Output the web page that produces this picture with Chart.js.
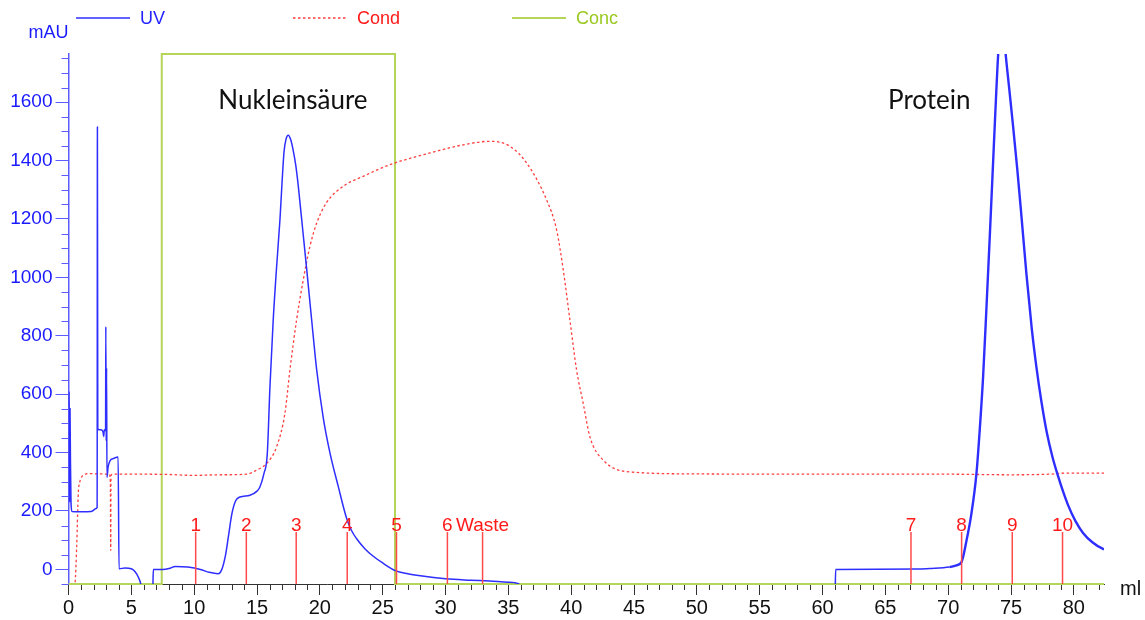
<!DOCTYPE html>
<html>
<head>
<meta charset="utf-8">
<script src="https://cdn.jsdelivr.net/npm/chart.js@4/dist/chart.umd.min.js"></script>
<style>
  html, body { margin: 0; padding: 0; background: #fff; }
  #wrap { width: 1145px; height: 620px; position: relative; }
</style>
</head>
<body>
<div id="wrap"><canvas id="chroma"></canvas></div>
<script>
// UV absorbance trace (ml, mAU)
const uvMl = [0.02, 0.06, 0.09, 0.12, 0.15, 0.2, 0.28, 1.0, 1.8, 2.0, 2.15, 2.28, 2.3, 2.33, 2.6, 2.75, 2.8, 2.85, 2.95, 2.97, 3.0, 3.03, 3.06, 3.15, 3.3, 3.6, 3.95, 4.02, 4.5, 5.0, 5.3, 5.55, 5.75, 5.85, 6.7, 6.75,
  7.5, 8.0, 8.5, 9.5, 10.5, 11.2, 11.9, 12.2, 12.5, 12.72, 13.0, 13.3, 13.64, 14.44, 15.0, 15.23, 15.55, 15.82, 16.03, 16.29, 16.55, 16.83, 17.0, 17.15, 17.3, 17.49, 17.68, 17.88,
  18.08, 18.28, 18.68, 18.95, 19.35, 19.75, 20.27, 20.8, 21.46, 22.13, 22.5, 22.93, 23.6, 24.25, 25.0, 26.0, 27.0, 28.0, 30.0, 32.0, 33.5, 35.0, 35.8, 36.2, 61.0, 61.05,
  67.5, 68.5, 70.1, 70.66, 71.06, 71.46, 71.85, 72.25, 72.51, 72.78, 73.04, 73.3, 73.55, 73.8, 74.0, 74.27, 74.56, 74.85, 75.16, 75.5, 75.83, 76.23, 76.65, 77.03, 77.4, 77.82, 78.3, 78.74, 79.1, 79.54, 80.1, 80.73, 81.5, 82.32, 82.4];
const uvMAU = [560, 608, 230, 550, 400, 226, 198, 197, 198, 203, 208, 212, 1515, 480, 478, 470, 455, 478, 475, 831, 440, 690, 315, 350, 372, 380, 385, 2, 5, 2, -8, -26, -50, -80, -80, 0,
  0, 3, 10, 8, 0, -10, -15, 0, 50, 111, 190, 235, 248, 254, 268, 282, 328, 397, 625, 854, 1030, 1200, 1330, 1430, 1472, 1487, 1472, 1435,
  1385, 1315, 1145, 1030, 854, 683, 520, 400, 285, 175, 135, 105, 70, 45, 22, -4, -15, -22, -32, -37, -40, -44, -49, -80, -80, 0,
  1, 3, 8, 14, 25, 99, 191, 328, 477, 660, 890, 1130, 1370, 1610, 1780, 1920, 1771, 1650, 1520, 1370, 1210, 1010, 825, 690, 580, 475, 385, 320, 272, 220, 168, 125, 92, 70, 69];

// Conductivity trace, drawn on the mAU scale
const condMl = [0.45, 0.52, 0.65, 0.78, 0.9, 1.05, 1.3, 1.58, 2.5, 3.25, 3.33, 3.36, 3.38, 3.5, 6.0, 8.0, 10.0, 12.0, 14.18, 14.97, 15.77, 16.56, 17.22, 17.62, 18.15, 18.68, 19.21, 19.75, 20.5, 21.86, 23.45, 25.58, 28.76, 31.41, 33.53, 35.12, 36.45, 38.04, 38.84, 39.37, 39.9, 40.43, 40.96, 41.49, 42.55, 44.67, 50, 60, 70, 75, 78, 79.5, 82.4];
const condVal = [-60, -49, 77, 260, 300, 317, 325, 328, 327, 326, 300, 65, 320, 326, 326, 325, 322, 324, 326, 340, 363, 420, 534, 683, 854, 991, 1106, 1186, 1254, 1312, 1346, 1386, 1426, 1454, 1466, 1449, 1392, 1266, 1163, 1026, 854, 683, 568, 454, 374, 334, 327, 326, 326, 324, 326, 330, 330];

// Buffer B concentration (%)
const concMl = [0, 7.42, 7.42, 25.98, 25.98, 82.4];
const concPct = [0, 0, 100, 100, 0, 0];

// Fraction marks
const fractionMl = [10.12, 14.15, 18.12, 22.18, 26.1, 30.15, 32.95, 67.04, 71.07, 75.1, 79.1];
const fractionNames = ['1', '2', '3', '4', '5', '6', 'Waste', '7', '8', '9', '10'];

// Peak names
const peakNames = ['Nukleinsäure', 'Protein'];

const sans = "'Liberation Sans', Arial, sans-serif";
const zip = (xs, ys) => xs.map((x, i) => ({ x: x, y: ys[i] }));

const minorTicks = {
  id: 'minorTicks',
  afterDraw(chart) {
    const { ctx } = chart;
    const xs = chart.scales.x, ys = chart.scales.y;
    ctx.save();
    ctx.lineWidth = 1;
    ctx.strokeStyle = '#333';
    xs.ticks.forEach(t => {
      if (t.value % 5 !== 0) {
        const px = Math.round(xs.getPixelForValue(t.value)) + 0.5;
        ctx.beginPath(); ctx.moveTo(px, xs.top + 1); ctx.lineTo(px, xs.top + 6); ctx.stroke();
      }
    });
    ctx.strokeStyle = '#5c5cff';
    ys.ticks.forEach(t => {
      if (t.value % 200 !== 0) {
        const py = Math.round(ys.getPixelForValue(t.value)) + 0.5;
        ctx.beginPath(); ctx.moveTo(ys.right - 7, py); ctx.lineTo(ys.right, py); ctx.stroke();
      }
    });
    ctx.restore();
  }
};

const fractionMarks = {
  id: 'fractionMarks',
  afterDatasetsDraw(chart, args, opts) {
    const { ctx, chartArea } = chart;
    const xs = chart.scales.x;
    ctx.save();
    ctx.strokeStyle = opts.lineColor;
    ctx.lineWidth = 1.5;
    ctx.fillStyle = opts.textColor;
    ctx.font = '19px ' + sans;
    ctx.textAlign = 'center';
    ctx.textBaseline = 'alphabetic';
    fractionMl.forEach((ml, i) => {
      const px = xs.getPixelForValue(ml);
      const top = chartArea.bottom - opts.height;
      ctx.beginPath(); ctx.moveTo(px, chartArea.bottom); ctx.lineTo(px, top); ctx.stroke();
      ctx.fillText(fractionNames[i], px, top - 1);
    });
    ctx.restore();
  }
};

const textLayer = {
  id: 'textLayer',
  afterDraw(chart, args, opts) {
    const { ctx, chartArea } = chart;
    const xs = chart.scales.x, ys = chart.scales.y;
    ctx.save();
    // legend row
    ctx.font = '18px ' + sans;
    ctx.textBaseline = 'middle';
    ctx.textAlign = 'left';
    opts.legendStarts.forEach((sx, i) => {
      const ds = chart.data.datasets[i];
      ctx.strokeStyle = ds.borderColor;
      ctx.lineWidth = ds.borderWidth;
      ctx.setLineDash(ds.borderDash || []);
      ctx.beginPath(); ctx.moveTo(sx, opts.legendY); ctx.lineTo(sx + opts.sample, opts.legendY); ctx.stroke();
      ctx.setLineDash([]);
      ctx.fillStyle = ds.legendColor;
      ctx.fillText(ds.label, sx + opts.sample + 10, opts.legendY + 1);
    });
    // axis units
    ctx.textBaseline = 'alphabetic';
    ctx.textAlign = 'right';
    ctx.fillStyle = '#1a1aff';
    ctx.fillText('mAU', ys.right, 38);
    ctx.textAlign = 'left';
    ctx.textBaseline = 'middle';
    ctx.fillStyle = '#111';
    ctx.font = '20px ' + sans;
    ctx.fillText('ml', chartArea.right + 16, chartArea.bottom + 5);
    // peak names
    ctx.font = '26px Lato, sans-serif';
    ctx.textAlign = 'center';
    ctx.textBaseline = 'alphabetic';
    ctx.fillStyle = '#111';
    opts.peakAt.forEach((ml, i) => {
      ctx.fillText(peakNames[i], xs.getPixelForValue(ml), ys.getPixelForValue(opts.peakTextLevel));
    });
    ctx.restore();
  }
};

new Chart(document.getElementById('chroma'), {
  type: 'line',
  data: {
    datasets: [
      {
        label: 'UV', data: zip(uvMl, uvMAU), yAxisID: 'y',
        borderColor: '#2e2eff', legendColor: '#2424ff', borderWidth: 1.5,
        segment: { borderWidth: c => (c.p0.parsed.x > 70 ? 2.4 : 1.5) },
        pointRadius: 0, cubicInterpolationMode: 'monotone', order: 0
      },
      {
        label: 'Cond', data: zip(condMl, condVal), yAxisID: 'yCond',
        borderColor: '#ff3d3d', legendColor: '#ff1a1a', borderWidth: 1.3, borderDash: [2.5, 2.5],
        pointRadius: 0, cubicInterpolationMode: 'monotone', order: 1
      },
      {
        label: 'Conc', data: zip(concMl, concPct), yAxisID: 'yConc',
        borderColor: '#b4d45a', legendColor: '#99c91f', borderWidth: 2,
        pointRadius: 0, tension: 0, clip: 3, order: 2
      }
    ]
  },
  options: {
    responsive: true,
    maintainAspectRatio: false,
    animation: false,
    devicePixelRatio: 1,
    layout: { padding: { top: 54, right: 41, left: 0, bottom: 0 } },
    plugins: {
      legend: { display: false },
      tooltip: { enabled: false },
      fractionMarks: { height: 52, lineColor: '#ff4a4a', textColor: '#ff1a1a' },
      textLayer: { legendStarts: [76, 293, 512], legendY: 18, sample: 54, peakAt: [17.86, 68.5], peakTextLevel: 1576 }
    },
    scales: {
      x: {
        type: 'linear', min: 0, max: 82.4,
        border: { display: true, color: '#333', width: 1 },
        grid: {
          drawOnChartArea: false, tickLength: 11,
          tickColor: c => (c.tick && c.tick.value % 5 === 0 ? '#333' : 'rgba(0,0,0,0)')
        },
        ticks: {
          stepSize: 1, autoSkip: false, includeBounds: false, maxRotation: 0, padding: 1,
          color: '#111', font: { family: sans, size: 20 },
          callback: v => (v % 5 === 0 ? String(v) : '')
        },
        afterFit: s => { s.height = 36; }
      },
      y: {
        type: 'linear', position: 'left', min: -50, max: 1765,
        border: { display: true, color: '#5c5cff', width: 1.5 },
        grid: {
          drawOnChartArea: false, tickLength: 13,
          tickColor: c => (c.tick && c.tick.value % 200 === 0 ? '#5c5cff' : 'rgba(0,0,0,0)')
        },
        ticks: {
          stepSize: 50, autoSkip: false, includeBounds: false, padding: 3,
          color: '#1a1aff', font: { family: sans, size: 19 },
          callback: v => (v % 200 === 0 ? String(v) : '')
        },
        afterFit: s => { s.width = 68.5; }
      },
      yCond: { type: 'linear', display: false, min: -50, max: 1765 },
      yConc: { type: 'linear', display: false, min: 0, max: 100 }
    }
  },
  plugins: [minorTicks, fractionMarks, textLayer]
});
</script>
</body>
</html>
